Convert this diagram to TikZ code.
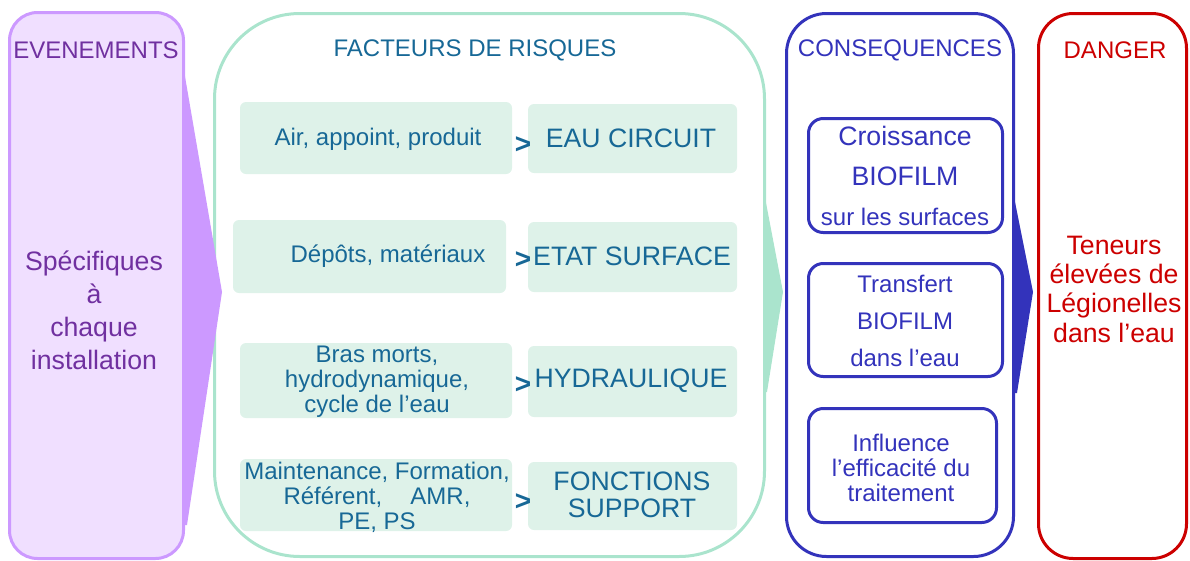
\documentclass[tikz,border=0pt]{standalone}
\usepackage{fontspec}
\setmainfont{Liberation Sans}
\definecolor{lilac}{RGB}{204,153,255}
\definecolor{lightlilac}{RGB}{240,223,255}
\definecolor{darkpurple}{RGB}{112,48,160}
\definecolor{mint}{RGB}{170,228,205}
\definecolor{lightmint}{RGB}{222,242,233}
\definecolor{darkteal}{RGB}{23,104,150}
\definecolor{darkblue}{RGB}{51,51,187}
\definecolor{darkred}{RGB}{204,0,0}

\begin{document}
\begin{tikzpicture}[x=0.75pt,y=-0.75pt,
    titre/.style={font=\fontsize{18}{20}\selectfont},
    facteur/.style={fill=lightmint, rounded corners=4.5pt},
    petit/.style={text=darkteal, align=center, font=\fontsize{18}{18.75}\selectfont},
    grand/.style={text=darkteal, align=center, font=\fontsize{20}{20}\selectfont},
    signe/.style={text=darkteal, font=\bfseries\fontsize{21}{21}\selectfont},
    conseq/.style={draw=darkblue, line width=2.25pt, rounded corners=11pt}]
    \useasboundingbox (0,0) rectangle (1190,561);

    % Grands panneaux
    \draw[lilac, fill=lightlilac, line width=2.25pt, rounded corners=21pt] (9.5,12.5) rectangle (183.5,558.5);
    \draw[mint, line width=2.25pt, rounded corners=64pt] (214.5,13.5) rectangle (764.5,556.5);
    \draw[darkblue, line width=2.25pt, rounded corners=30pt] (786.5,13.5) rectangle (1013.5,556.5);
    \draw[darkred, line width=2.25pt, rounded corners=26pt] (1038.5,13.5) rectangle (1186.5,558.5);

    % Fleches entre les panneaux
    \fill[lilac] (182,59) -- (222,292) -- (187,525) -- (182,525) -- cycle;
    \fill[mint] (763,187) -- (783,292) -- (767,392) -- (763,392) -- cycle;
    \fill[darkblue] (1012,187) -- (1033,292) -- (1017,393) -- (1012,393) -- cycle;

    % Titres
    \node[titre, text=darkpurple] (evenements) at (96,50) {EVENEMENTS};
    \node[titre, text=darkteal] (facteurs) at (475,50) {FACTEURS DE RISQUES};
    \node[titre, text=darkblue] (consequences) at (900,50) {CONSEQUENCES};
    \node[titre, text=darkred] (danger) at (1115,50) {DANGER};

    % Evenements
    \node[text=darkpurple, align=center, font=\fontsize{20}{24.75}\selectfont] (specifiques) at (94,310)
        {Spécifiques\\à\\chaque\\installation};

    % Facteurs de risques
    \fill[facteur] (240,102) rectangle (512,174);
    \fill[facteur] (528,104) rectangle (737,173);
    \fill[facteur] (233,220) rectangle (506,293);
    \fill[facteur] (528,222) rectangle (737,292);
    \fill[facteur] (240,343) rectangle (512,418);
    \fill[facteur] (528,346) rectangle (737,417);
    \fill[facteur] (240,459) rectangle (512,531);
    \fill[facteur] (528,462) rectangle (737,530);

    \node[petit] (air) at (378,139) {Air, appoint, produit};
    \node[grand] (eau) at (631,138) {EAU CIRCUIT};
    \node[signe] (signeA) at (523,145) {>};

    \node[petit] (depots) at (388,256) {Dépôts, matériaux};
    \node[grand] (etat) at (632,256) {ETAT SURFACE};
    \node[signe] (signeB) at (523,260) {>};

    \node[petit] (bras) at (377,382) {Bras morts,\\hydrodynamique,\\cycle de l’eau};
    \node[grand] (hydraulique) at (631,381) {HYDRAULIQUE};
    \node[signe] (signeC) at (523,385) {>};

    \node[petit] (maintenance) at (377,497) {Maintenance, Formation,\\Référent,\hspace{0.9em} AMR,\\PE, PS};
    \node[grand] (fonctions) at (632,495) {FONCTIONS\\SUPPORT};
    \node[signe] (signeD) at (523,502) {>};

    % Consequences
    \draw[conseq] (808.5,118.5) rectangle (1002.5,232.5);
    \draw[conseq] (808.5,263.5) rectangle (1002.5,376.5);
    \draw[conseq] (808.5,408.5) rectangle (996.5,522.5);

    \node[text=darkblue, align=center, font=\fontsize{20}{30}\selectfont] (croissance) at (905,176)
        {Croissance\\BIOFILM\\{\fontsize{18}{30}\selectfont sur les surfaces}};
    \node[text=darkblue, align=center, font=\fontsize{18}{27.5}\selectfont] (transfert) at (905,321)
        {Transfert\\BIOFILM\\dans l’eau};
    \node[text=darkblue, align=center, font=\fontsize{18}{18.75}\selectfont] (influence) at (901,468)
        {Influence\\l’efficacité du\\traitement};

    % Danger
    \node[text=darkred, align=center, font=\fontsize{20}{22}\selectfont] (teneurs) at (1114,289)
        {Teneurs\\élevées de\\Légionelles\\dans l’eau};
\end{tikzpicture}
\end{document}
